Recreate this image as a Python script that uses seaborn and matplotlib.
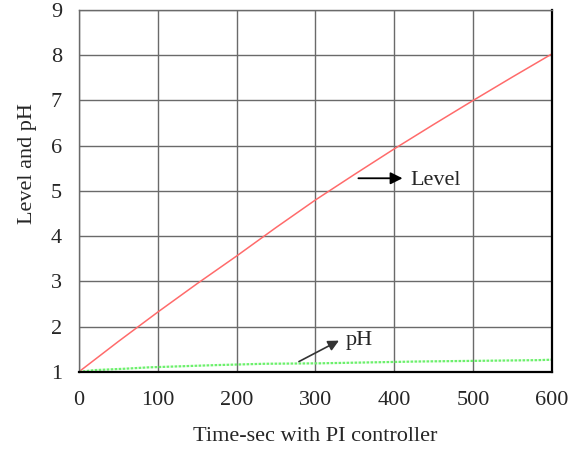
import matplotlib
matplotlib.use("Agg")
import matplotlib.pyplot as plt
import pandas as pd
import seaborn as sns

# values
time_level = [0, 50, 100, 150, 200, 250, 300, 350, 400, 450, 500, 550, 600]
level = [1.0, 1.67, 2.32, 2.95, 3.56, 4.19, 4.80, 5.37, 5.93, 6.47, 7.0, 7.52, 8.03]

time_ph = [0, 20, 58, 88, 122, 173, 236, 306, 430, 582, 600]
ph = [1.0, 1.04, 1.07, 1.10, 1.12, 1.15, 1.18, 1.19, 1.23, 1.26, 1.27]

x_ticks = [0, 100, 200, 300, 400, 500, 600]
y_ticks = [1, 2, 3, 4, 5, 6, 7, 8, 9]

level_df = pd.DataFrame({"time": time_level, "value": level})
ph_df = pd.DataFrame({"time": time_ph, "value": ph})

sns.set_style("white")
plt.rcParams["font.family"] = ["Liberation Serif", "DejaVu Serif"]

fig = plt.figure(figsize=(5.75, 4.53), dpi=100)
ax = fig.add_axes([0.137, 0.179, 0.823, 0.799])

sns.lineplot(data=level_df, x="time", y="value", ax=ax, color="#ff6b6b", linewidth=1.1)
sns.lineplot(data=ph_df, x="time", y="value", ax=ax, color="#6cf06c", linewidth=1.6,
             linestyle=(0, (1.2, 0.6)))

ax.set_xlim(0, 600)
ax.set_ylim(1, 9)
ax.set_xticks(x_ticks)
ax.set_yticks(y_ticks)
ax.grid(True, color="#6a6a6a", linewidth=1.0)
ax.tick_params(axis="both", labelsize=16, direction="in", length=4, color="#333333")
ax.tick_params(axis="x", pad=14)
ax.tick_params(axis="y", pad=12)

for side in ["top", "left"]:
    ax.spines[side].set_color("#6a6a6a")
    ax.spines[side].set_linewidth(1.0)
for side in ["bottom", "right"]:
    ax.spines[side].set_color("black")
    ax.spines[side].set_linewidth(1.6)

ax.set_xlabel("Time-sec with PI controller", fontsize=16)
ax.set_ylabel("Level and pH", fontsize=16)
ax.xaxis.set_label_coords(0.5, -0.152)
ax.yaxis.set_label_coords(-0.088, 0.577)

ax.annotate("", xy=(414, 5.28), xytext=(351, 5.28),
            arrowprops=dict(arrowstyle="-|>", color="black", lw=1.3, mutation_scale=18))
ax.text(420, 5.22, "Level", fontsize=16, va="center", ha="left")

ax.annotate("", xy=(333, 1.72), xytext=(276, 1.2),
            arrowprops=dict(arrowstyle="-|>", color="#333333", lw=1.2, mutation_scale=16))
ax.text(338, 1.70, "pH", fontsize=16, va="center", ha="left")

fig.savefig("out.png", dpi=100)
